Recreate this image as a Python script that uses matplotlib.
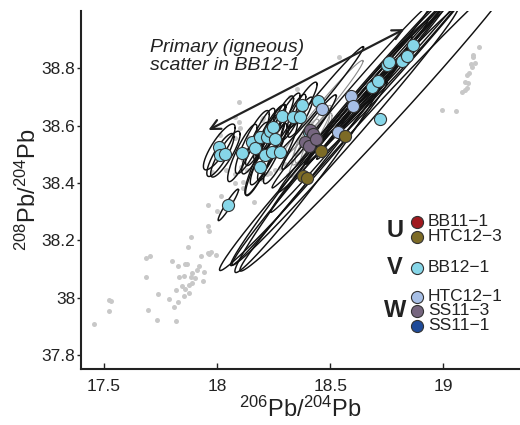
import numpy as np
import matplotlib
matplotlib.use("Agg")
import matplotlib.pyplot as plt
from matplotlib.ticker import FuncFormatter

plt.rcParams['font.family'] = ['Liberation Sans', 'DejaVu Sans']
plt.rcParams['mathtext.fontset'] = 'custom'
plt.rcParams['mathtext.rm'] = 'Liberation Sans'
plt.rcParams['mathtext.it'] = 'Liberation Sans:italic'

# background field (grey dots)
bg_x = [17.455, 17.521, 17.530, 17.525, 17.688, 17.702, 17.688, 17.741, 17.697, 17.733,
        17.790, 17.803, 17.830, 17.821, 17.812, 17.821, 17.830, 17.834, 17.856, 17.847,
        17.860, 17.869, 17.874, 17.883, 17.883, 17.891, 17.905, 17.891, 17.878, 17.856,
        17.860, 17.878, 17.913, 17.922, 17.931, 17.944, 17.940, 17.962, 17.966, 17.975,
        17.997, 17.962, 17.962, 17.966, 18.002, 18.019, 18.081, 18.116, 18.165, 18.041,
        18.108, 18.222, 18.200, 18.257, 18.099, 18.081, 18.099, 18.103, 18.200, 18.205,
        18.138, 18.081, 18.324, 18.355, 18.116, 18.081, 18.134, 18.200, 18.235, 18.280,
        18.302, 18.315, 18.116, 18.540, 19.158, 19.131, 19.131, 19.140, 19.122, 19.127,
        19.113, 19.105, 19.096, 19.109, 19.105, 19.083, 19.096, 18.994, 19.056, 18.015,
        17.980]
bg_y = [37.909, 37.993, 37.989, 37.954, 38.139, 38.146, 38.073, 38.014, 37.958, 37.923,
        37.996, 38.129, 38.112, 37.920, 37.968, 38.028, 37.986, 38.073, 38.076, 38.042,
        38.118, 38.118, 38.177, 38.212, 38.073, 38.087, 38.070, 38.052, 38.017, 38.007,
        38.031, 38.045, 38.097, 38.111, 38.146, 38.090, 38.059, 38.157, 38.153, 38.160,
        38.150, 38.324, 38.251, 38.233, 38.303, 38.355, 38.400, 38.383, 38.334, 38.446,
        38.456, 38.432, 38.414, 38.446, 38.683, 38.630, 38.613, 38.592, 38.620, 38.627,
        38.561, 38.557, 38.700, 38.728, 38.481, 38.432, 38.446, 38.439, 38.435, 38.453,
        38.467, 38.428, 38.404, 38.839, 38.874, 38.846, 38.839, 38.818, 38.815, 38.805,
        38.784, 38.777, 38.752, 38.749, 38.731, 38.717, 38.724, 38.654, 38.651, 38.567,
        38.439]

# BB12-1 analyses: value, 2-sigma half extents (x, y) and error correlation
bb12_x = [18.010, 18.015, 18.037, 18.112, 18.156, 18.169, 18.191, 18.191, 18.213, 18.222,
          18.235, 18.249, 18.244, 18.257, 18.280, 18.288, 18.337, 18.368, 18.377, 18.447,
          18.050, 18.721, 18.685, 18.712, 18.752, 18.760, 18.818, 18.840, 18.866, 18.407]
bb12_y = [38.526, 38.498, 38.501, 38.505, 38.543, 38.522, 38.561, 38.456, 38.498, 38.561,
          38.582, 38.595, 38.508, 38.554, 38.508, 38.634, 38.630, 38.630, 38.672, 38.686,
          38.324, 38.623, 38.735, 38.756, 38.811, 38.822, 38.825, 38.843, 38.881, 38.578]
bb12_ex = [0.07, 0.06, 0.065, 0.065, 0.075, 0.06, 0.065, 0.065, 0.09, 0.06,
           0.065, 0.055, 0.065, 0.11, 0.075, 0.05, 0.055, 0.055, 0.065, 0.20,
           0.045, 0.62, 0.30, 0.32, 0.28, 0.35, 0.30, 0.40, 0.35, 0.12]
bb12_ey = [0.08, 0.075, 0.08, 0.10, 0.11, 0.09, 0.10, 0.10, 0.14, 0.08,
           0.09, 0.08, 0.10, 0.16, 0.11, 0.07, 0.08, 0.07, 0.08, 0.19,
           0.055, 0.53, 0.27, 0.29, 0.25, 0.31, 0.26, 0.36, 0.31, 0.13]
bb12_r = [0.84, 0.84, 0.86, 0.88, 0.88, 0.86, 0.88, 0.90, 0.92, 0.86,
          0.88, 0.88, 0.90, 0.94, 0.90, 0.86, 0.88, 0.88, 0.90, 0.99,
          0.95, 0.993, 0.995, 0.995, 0.995, 0.996, 0.995, 0.996, 0.996, 0.97]

htc123_x = [18.566, 18.460, 18.381, 18.399]
htc123_y = [38.564, 38.512, 38.425, 38.418]
htc123_ex = [0.50, 0.40, 0.37, 0.32]
htc123_ey = [0.45, 0.40, 0.33, 0.33]
htc123_r = [0.994, 0.993, 0.99, 0.985]

htc121_x = [18.465, 18.593, 18.602, 18.536]
htc121_y = [38.658, 38.703, 38.669, 38.578]
htc121_ex = [0.18, 0.35, 0.33, 0.30]
htc121_ey = [0.17, 0.32, 0.30, 0.28]
htc121_r = [0.985, 0.995, 0.995, 0.994]

ss113_x = [18.412, 18.425, 18.390, 18.407, 18.438]
ss113_y = [38.585, 38.571, 38.543, 38.529, 38.554]
ss113_ex = [0.07, 0.08, 0.06, 0.09, 0.07]
ss113_ey = [0.09, 0.10, 0.08, 0.11, 0.09]
ss113_r = [0.90, 0.92, 0.88, 0.93, 0.90]

col = {'BB11-1': '#A0191E', 'HTC12-3': '#7D6B26', 'BB12-1': '#86D6E8',
       'HTC12-1': '#A7BFE6', 'SS11-3': '#76667F', 'SS11-1': '#1F4B99'}


def draw_ellipses(ax, xs, ys, exs, eys, rs, color, lw):
    t = np.linspace(0, 2 * np.pi, 200)
    for x0, y0, a, b, r in zip(xs, ys, exs, eys, rs):
        ex = x0 + a * np.cos(t)
        ey = y0 + b * (r * np.cos(t) + np.sqrt(1 - r ** 2) * np.sin(t))
        ax.plot(ex, ey, color=color, lw=lw, zorder=2)


fig = plt.figure(figsize=(5.2, 4.25), dpi=100)
ax = fig.add_axes([0.156, 0.132, 0.844, 0.842])

ax.plot(bg_x, bg_y, 'o', ms=3.6, color='#c8c8c8', mec='none', zorder=1)

draw_ellipses(ax, ss113_x, ss113_y, ss113_ex, ss113_ey, ss113_r, '#9a9a9a', 0.8)
draw_ellipses(ax, htc121_x[:1], htc121_y[:1], htc121_ex[:1], htc121_ey[:1], htc121_r[:1], '#8a8a8a', 0.8)
draw_ellipses(ax, htc121_x[1:], htc121_y[1:], htc121_ex[1:], htc121_ey[1:], htc121_r[1:], '#111111', 1.0)
draw_ellipses(ax, bb12_x, bb12_y, bb12_ex, bb12_ey, bb12_r, '#111111', 1.05)
draw_ellipses(ax, htc123_x, htc123_y, htc123_ex, htc123_ey, htc123_r, '#111111', 1.05)

mk = dict(ms=8.7, mec='#333333', mew=0.8, ls='none', zorder=3)
ax.plot(bb12_x, bb12_y, 'o', mfc=col['BB12-1'], **mk)
ax.plot(htc121_x, htc121_y, 'o', mfc=col['HTC12-1'], **mk)
ax.plot(ss113_x, ss113_y, 'o', mfc=col['SS11-3'], **mk)
ax.plot(htc123_x, htc123_y, 'o', mfc=col['HTC12-3'], **mk)

ax.set_xlim(17.40, 19.338)
ax.set_ylim(37.752, 39.0)
ax.set_xticks([17.5, 18, 18.5, 19])
ax.set_yticks([37.8, 38, 38.2, 38.4, 38.6, 38.8])
fmt = FuncFormatter(lambda v, p: '%g' % v)
ax.xaxis.set_major_formatter(fmt)
ax.yaxis.set_major_formatter(fmt)
for s in ['top', 'right']:
    ax.spines[s].set_visible(False)
for s in ['left', 'bottom']:
    ax.spines[s].set_linewidth(1.5)
    ax.spines[s].set_color('#222222')
ax.tick_params(axis='x', direction='in', length=4, width=1, labelsize=12.5, pad=7, colors='#222222')
ax.tick_params(axis='y', direction='out', length=3, width=1, labelsize=12.5, pad=1, colors='#222222')
ax.set_xlabel(r'$^{206}$Pb/$^{204}$Pb', fontsize=17, labelpad=2, color='#222222')
ax.set_ylabel(r'$^{208}$Pb/$^{204}$Pb', fontsize=17, labelpad=1, color='#222222')

ax.annotate('', xy=(17.962, 38.585), xytext=(18.827, 38.937),
            arrowprops=dict(arrowstyle='<->,head_length=0.7,head_width=0.35',
                            lw=1.6, color='#222222', shrinkA=0, shrinkB=0))
ax.text(0.157, 0.922, 'Primary (igneous)\nscatter in BB12-1', transform=ax.transAxes,
        fontsize=14, style='italic', va='top', ha='left', linespacing=1.05, color='#222222')

# legend built by hand
leg = [('BB11-1', 0.411), ('HTC12-3', 0.369), ('BB12-1', 0.282),
       ('HTC12-1', 0.201), ('SS11-3', 0.162), ('SS11-1', 0.120)]
for name, yy in leg:
    ax.plot([0.765], [yy], 'o', ms=8.7, mfc=col[name], mec='#333333', mew=0.8,
            transform=ax.transAxes, clip_on=False, zorder=4)
    ax.text(0.79, yy, name.replace('-', '\u2212'), transform=ax.transAxes,
            fontsize=12.5, va='center', ha='left', color='#222222')
for letter, yy in [('U', 0.388), ('V', 0.282), ('W', 0.162)]:
    ax.text(0.715, yy, letter, transform=ax.transAxes, fontsize=17, fontweight='bold',
            va='center', ha='center', color='#222222')

fig.savefig('out.png', dpi=100)
